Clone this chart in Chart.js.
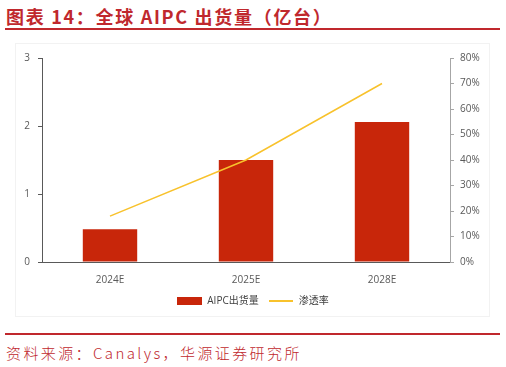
<!DOCTYPE html>
<html>
<head>
<meta charset="utf-8">
<script src="https://cdn.jsdelivr.net/npm/chart.js@4"></script>
<style>
  html, body { margin: 0; padding: 0; background: #fff; }
  body { width: 506px; height: 367px; position: relative; overflow: hidden; }
  .title {
    position: absolute; left: 6px; top: 3px;
    font-family: "Noto Sans CJK SC", sans-serif; font-weight: 700;
    font-size: 18px; letter-spacing: 1.7px; color: #c0282d; white-space: nowrap;
  }
  .rule { position: absolute; left: 5px; width: 495px; height: 2px; background: #c0282d; }
  .frame { position: absolute; left: 15px; top: 43px; width: 473px; height: 272px; border: 1px solid #f2f2f2; }
  .chart { position: absolute; left: 0; top: 40px; width: 506px; height: 276px; }
  .source {
    position: absolute; left: 6px; top: 342px;
    font-family: "Noto Sans CJK SC", sans-serif; font-weight: 300;
    font-size: 15px; letter-spacing: 2.4px; color: #c0282d; white-space: nowrap;
  }
</style>
</head>
<body>
<div class="title">图表 14：全球 AIPC 出货量（亿台）</div>
<div class="rule" style="top:28px"></div>
<div class="frame"></div>
<div class="chart"><canvas id="c" width="506" height="276"></canvas></div>
<div class="rule" style="top:333px"></div>
<div class="source">资料来源：Canalys，华源证券研究所</div>

<script>
const categories = ['2024E', '2025E', '2028E'];
const shipments = [0.48, 1.5, 2.06];      // 亿台
const penetration = [18, 40, 70];         // %

const barColor = '#c8260a';
const lineColor = '#f8c22c';

Chart.defaults.font.family = "'Open Sans', 'Noto Sans CJK SC', sans-serif";
Chart.defaults.font.size = 10;
Chart.defaults.color = '#595959';

function swatch(w, h, color) {
    const c = document.createElement('canvas');
    c.width = w;
    c.height = h;
    const g = c.getContext('2d');
    g.fillStyle = color;
    g.fillRect(0, 0, w, h);
    return c;
}

new Chart(document.getElementById('c'), {
    type: 'bar',
    data: {
        labels: categories,
        datasets: [
            {
                type: 'bar',
                label: 'AIPC出货量',
                data: shipments,
                backgroundColor: barColor,
                yAxisID: 'y',
                categoryPercentage: 1,
                barPercentage: 0.4,
                order: 2
            },
            {
                type: 'line',
                label: '渗透率',
                data: penetration,
                borderColor: lineColor,
                backgroundColor: lineColor,
                borderWidth: 1.5,
                pointRadius: 0,
                tension: 0,
                yAxisID: 'y1',
                order: 1
            }
        ]
    },
    options: {
        responsive: false,
        animation: false,
        layout: { padding: { top: 18, left: 0, right: 0, bottom: 0 } },
        plugins: {
            legend: {
                position: 'bottom',
                labels: {
                    color: '#404040',
                    usePointStyle: true,
                    pointStyleWidth: 25,
                    padding: 10,
                    generateLabels: function(chart) {
                        return chart.data.datasets.map((ds, i) => ({
                            text: ds.label,
                            datasetIndex: i,
                            fontColor: '#404040',
                            pointStyle: i === 0 ? swatch(25, 8, barColor) : swatch(24, 2, lineColor),
                            hidden: false,
                            lineWidth: 0
                        }));
                    }
                }
            },
            tooltip: { enabled: false }
        },
        scales: {
            x: {
                grid: { display: false },
                border: { display: true, color: '#595959', width: 1 },
                ticks: { padding: 4 },
                afterFit: function(scale) { scale.height = 24; }
            },
            y: {
                position: 'left',
                min: 0,
                max: 3,
                ticks: { stepSize: 1, padding: 8 },
                grid: { drawOnChartArea: false, drawTicks: true, tickLength: 4, color: '#595959' },
                border: { display: true, color: '#595959', width: 1 },
                afterFit: function(scale) { scale.width = 42; }
            },
            y1: {
                position: 'right',
                min: 0,
                max: 80,
                ticks: {
                    stepSize: 10,
                    padding: 6,
                    callback: function(value) { return value + '%'; }
                },
                grid: { drawOnChartArea: false, drawTicks: true, tickLength: 4, color: '#a6a6a6' },
                border: { display: true, color: '#a6a6a6', width: 1 },
                afterFit: function(scale) { scale.width = 56; }
            }
        }
    }
});
</script>
</body>
</html>
